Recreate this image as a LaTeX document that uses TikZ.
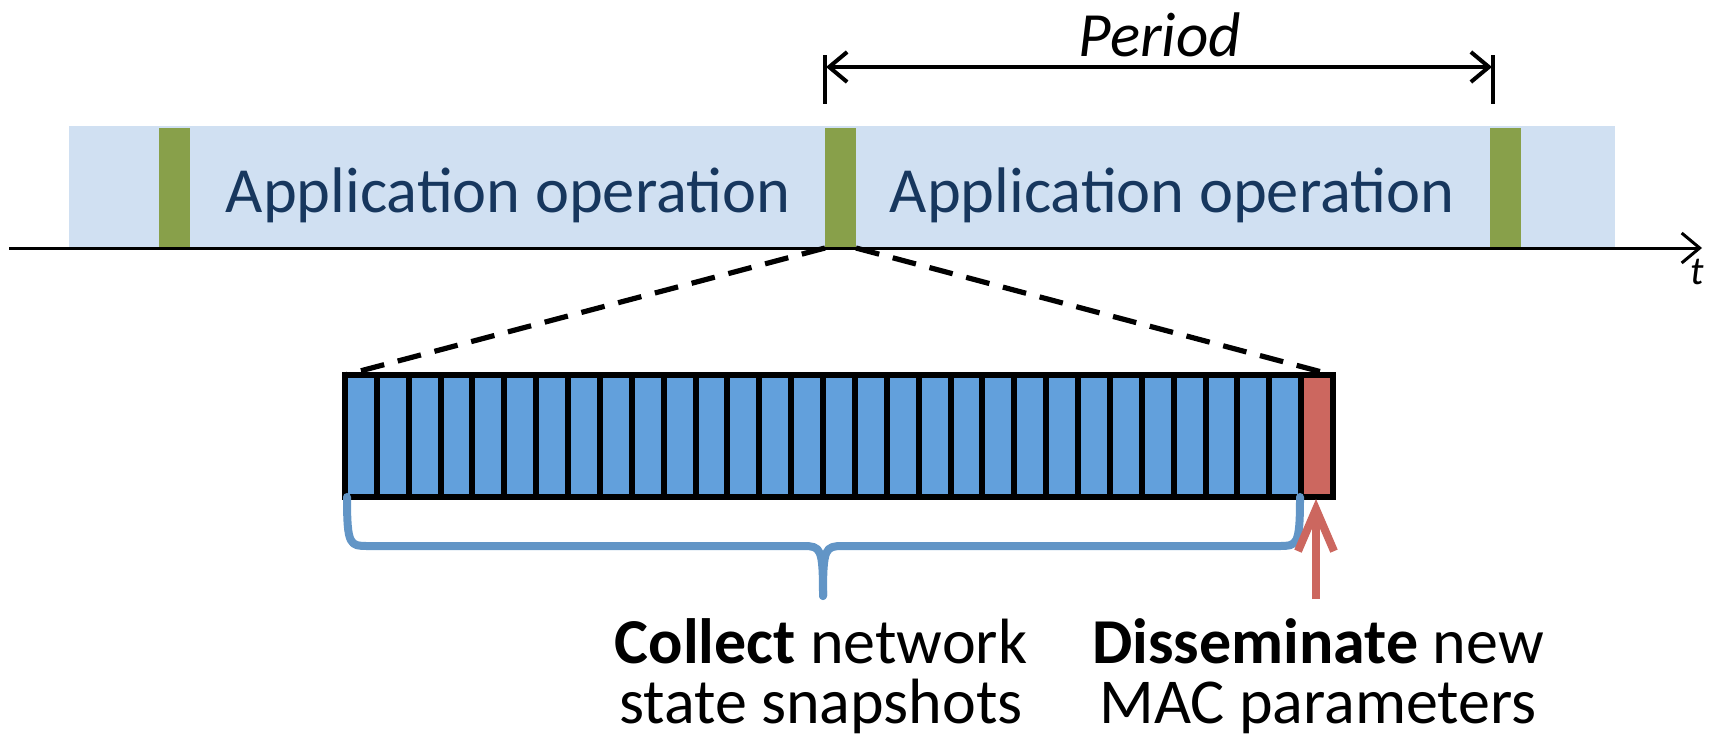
\documentclass[tikz,border=0pt]{standalone}
\usepackage{fontspec}
\setmainfont{Carlito}
\usetikzlibrary{arrows.meta}
\definecolor{bandblue}{HTML}{D0E0F2}
\definecolor{olive}{HTML}{88A04A}
\definecolor{navy}{HTML}{17375E}
\definecolor{slotblue}{HTML}{62A0DC}
\definecolor{braceblue}{HTML}{6295C6}
\definecolor{redslot}{HTML}{CC675F}
\tikzset{
  rect/.style={rectangle, inner sep=0pt, outer sep=0pt, anchor=north west},
  greenbar/.style={rect, fill=olive, minimum width=15.5pt, minimum height=60pt},
  slot/.style={rect, draw=black, line width=3pt, minimum width=15.935pt, minimum height=61pt, fill=slotblue},
  apptext/.style={font=\fontsize{32.2}{36}\selectfont, text=navy},
  label/.style={font=\fontsize{32}{30}\selectfont, align=center, inner sep=0pt},
  tick/.style={line width=1.6pt},
  zoomline/.style={line width=2.6pt, dash pattern=on 12pt off 7pt},
}
\begin{document}
\begin{tikzpicture}[x=0.5pt,y=-0.5pt]
\useasboundingbox (0,0) rectangle (1713,744);
% band
\node[rect, fill=bandblue, minimum width=773pt, minimum height=61pt] (band) at (69,126) {};
\node[greenbar] (g1) at (159,128) {};
\node[greenbar] (g2) at (825,128) {};
\node[greenbar] (g3) at (1490,128) {};
\node[apptext] (app1) at (508,195) {Application operation};
\node[apptext] (app2) at (1172,195) {Application operation};
% axis
\coordinate (ax0) at (9,248);
\coordinate (ax1) at (1702,248);
\draw[line width=1.5pt, -{Straight Barb[length=9pt,width=15pt,line width=1.5pt]}] (ax0) -- (ax1);
\node[font=\fontsize{20}{24}\selectfont\itshape, inner sep=0pt] (t) at (1697,272) {t};
% period
\coordinate (p0t) at (825,55); \coordinate (p0b) at (825,104);
\coordinate (p1t) at (1493,55); \coordinate (p1b) at (1493,104);
\draw[tick] (p0t) -- (p0b);
\draw[tick] (p1t) -- (p1b);
\coordinate (pa) at (826,67); \coordinate (pb) at (1492,67);
\draw[line width=2pt, {Straight Barb[length=9pt,width=15pt,line width=2pt]}-{Straight Barb[length=9pt,width=15pt,line width=2pt]}] (pa) -- (pb);
\node[font=\fontsize{31.5}{36}\selectfont\itshape, inner sep=0pt] (period) at (1160,35) {Period};
% slots
\foreach \i in {0,...,29} {
  \node[slot] (s\i) at (345+\i*31.87,375) {};
}
\node[slot, fill=redslot] (s30) at (345+30*31.87,375) {};
% dashed zoom lines
\draw[zoomline] (g2.south west) -- (s0.north west);
\draw[zoomline] (g2.south east) -- (s30.north east);
% brace
\coordinate (bl) at (347,497);
\coordinate (br) at (1300,497);
\coordinate (bt) at (823,596);
\draw[braceblue, line width=4pt, line cap=round, line join=round]
  (bl) .. controls (347,546) and (350,546) .. (368,546) -- (803,546)
  .. controls (821,546) and (823,548) .. (bt);
\draw[braceblue, line width=4pt, line cap=round, line join=round]
  (br) .. controls (1300,546) and (1297,546) .. (1279,546) -- (843,546)
  .. controls (825,546) and (823,548) .. (bt);
% red arrow
\coordinate (ra) at (1316,599);
\coordinate (rb) at (1316,499);
\draw[redslot, line width=4pt, -{Straight Barb[length=21pt,width=18pt,line width=4pt]}] (ra) -- (rb);
% labels
\node[label] (collect) at (821,676) {\textbf{Collect} network\\state snapshots};
\node[label] (dissem) at (1318,676) {\textbf{Disseminate} new\\MAC parameters};
\end{tikzpicture}
\end{document}
